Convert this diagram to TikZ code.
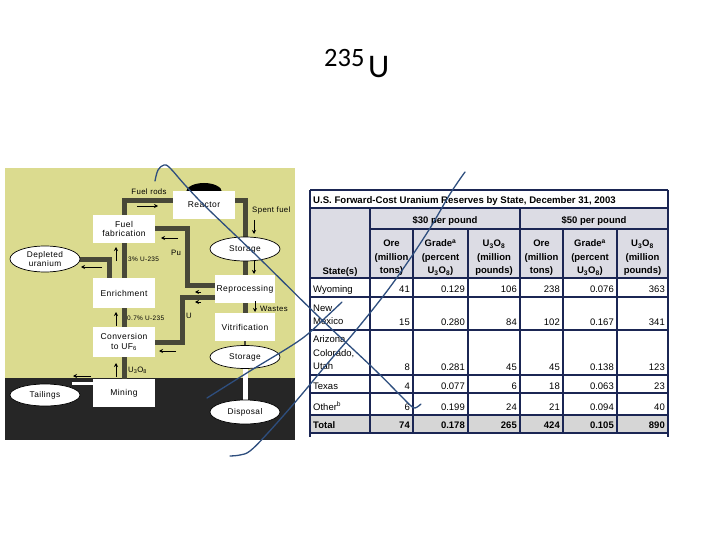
\documentclass[tikz,border=0pt]{standalone}
\usepackage{fontspec}
\setmainfont{Liberation Sans}
\newfontfamily\titlefont{Carlito}
\newfontfamily\diagfont[LetterSpace=5]{Liberation Sans}
\usetikzlibrary{shapes.geometric,arrows.meta}
\definecolor{yel}{RGB}{219,219,143}
\definecolor{darkbg}{RGB}{38,38,38}
\definecolor{flow}{RGB}{72,72,56}
\definecolor{tline}{RGB}{27,38,84}
\definecolor{thead}{RGB}{220,220,228}
\definecolor{ttot}{RGB}{214,214,214}
\definecolor{ink}{RGB}{46,78,126}
\pgfdeclarelayer{bg}
\pgfsetlayers{bg,main}
\begin{document}
\begin{tikzpicture}[x=1pt,y=-1pt,
  box/.style={rectangle,fill=white,inner sep=0pt,align=center,font=\diagfont\fontsize{8.5}{9.5}\selectfont},
  blob/.style={ellipse,draw=black,line width=0.7pt,fill=white,inner sep=0pt,align=center,font=\diagfont\fontsize{8.3}{9.3}\selectfont},
  flowline/.style={draw=flow,line width=5pt},
  whiteline/.style={draw=white,line width=5pt},
  tinyarrow/.style={draw=black,line width=0.7pt,-{Stealth[length=4pt,width=4pt]}},
  lbl/.style={font=\diagfont\fontsize{6.5}{7.5}\selectfont,inner sep=0pt},
  lblbig/.style={font=\diagfont\fontsize{7.8}{8.5}\selectfont,inner sep=0pt},
  hline/.style={draw=tline,line width=1.6pt},
  vline/.style={draw=tline,line width=1.1pt},
  hdr/.style={anchor=south,align=center,inner sep=0pt,font=\bfseries\fontsize{9.5}{13.5}\selectfont},
  rl/.style={anchor=south west,align=left,inner sep=0pt,font=\fontsize{9.5}{13.5}\selectfont},
  rlb/.style={anchor=base west,inner sep=0pt,font=\fontsize{9.5}{13.5}\selectfont},
  nm/.style={anchor=base east,inner sep=0pt,font=\fontsize{9.5}{11}\selectfont},
  nmb/.style={nm,font=\bfseries\fontsize{9.5}{11}\selectfont},
  inkline/.style={draw=ink,line width=1.3pt,line cap=round,line join=round}
]
\useasboundingbox (0,0) rectangle (720,540);

% title
\node[anchor=base west,inner sep=0pt,font=\titlefont\fontsize{26.5}{26.5}\selectfont] (t235) at (324,67) {235};
\node[anchor=base west,inner sep=0pt,font=\titlefont\fontsize{33}{33}\selectfont] (tU) at (368,78) {U};

% diagram background
\begin{pgfonlayer}{bg}
\fill[yel] (5,168) rectangle (295,378);
\fill[darkbg] (5,378) rectangle (295,440);
\end{pgfonlayer}

% dome and nodes
\node[ellipse,fill=black,minimum width=36pt,minimum height=18pt,inner sep=0pt] (dome) at (204,192) {};
\node[box,minimum width=62pt,minimum height=28pt] (reactor) at (204,205) {Reactor};
\node[box,minimum width=62pt,minimum height=28pt] (fab) at (124,229) {Fuel\\fabrication};
\node[box,minimum width=62pt,minimum height=30pt] (enrich) at (124,293) {Enrichment};
\node[box,minimum width=62pt,minimum height=30pt] (conv) at (124,342) {Conversion\\to UF\textsubscript{6}};
\node[box,minimum width=62pt,minimum height=28pt] (mining) at (124,393) {Mining};
\node[box,minimum width=60pt,minimum height=28pt] (repro) at (245,289) {Reprocessing};
\node[box,minimum width=60pt,minimum height=28pt] (vitri) at (245,327) {Vitrification};
\node[blob,minimum width=70pt,minimum height=24pt] (stor1) at (245,249) {Storage};
\node[blob,minimum width=70pt,minimum height=23pt] (stor2) at (245,357) {Storage};
\node[blob,minimum width=70pt,minimum height=24pt] (disp) at (245,412) {Disposal};
\node[blob,minimum width=70pt,minimum height=26pt] (depl) at (45,259) {Depleted\\uranium};
\node[blob,minimum width=70pt,minimum height=22pt] (tail) at (45,395) {Tailings};

% flow lines
\coordinate (pucorner) at (187,229);
\coordinate (ucorner) at (182,297);
\coordinate (tailend) at (72,383);
\begin{pgfonlayer}{bg}
\draw[flowline] (fab.north) |- ([yshift=4pt]reactor.west);
\draw[flowline] ([yshift=4pt]reactor.east) -| (stor1.north);
\draw[flowline] (stor1.south) -- (repro.north);
\draw[flowline] (fab.east) -- (pucorner) |- ([yshift=4pt]repro.west);
\draw[flowline] ([yshift=-8pt]repro.west) -- (ucorner) |- (conv.east);
\draw[flowline] (repro.south) -- (vitri.north);
\draw[flowline,line width=2pt] (vitri.south) -- (stor2.north);
\draw[whiteline] (stor2.south) -- (disp.north);
\draw[flowline] (enrich.north) -- (fab.south);
\draw[flowline] ([xshift=-15pt]enrich.north) |- (depl.east);
\draw[flowline] (conv.north) -- (enrich.south);
\draw[flowline] (mining.north) -- (conv.south);
\draw[whiteline,line width=3pt] ([yshift=10pt]mining.west) -- (tailend);
\end{pgfonlayer}

% small arrows
\coordinate (a1s) at (137,206); \coordinate (a1e) at (158,206);
\coordinate (a2s) at (178,238); \coordinate (a2e) at (161,238);
\coordinate (a3s) at (254,220); \coordinate (a3e) at (254,234);
\coordinate (a4s) at (254,261); \coordinate (a4e) at (254,274);
\coordinate (a5s) at (255,301); \coordinate (a5e) at (255,312);
\coordinate (a6s) at (116,261); \coordinate (a6e) at (116,247);
\coordinate (a7s) at (102,267); \coordinate (a7e) at (81,267);
\coordinate (a8s) at (116,326); \coordinate (a8e) at (116,312);
\coordinate (a9s) at (176,351); \coordinate (a9e) at (159,351);
\coordinate (a10s) at (116,377); \coordinate (a10e) at (116,363);
\coordinate (a11s) at (91,376); \coordinate (a11e) at (73,376);
\coordinate (a12s) at (201,292); \coordinate (a12e) at (195,292);
\coordinate (a13s) at (201,302); \coordinate (a13e) at (195,302);
\foreach \k in {1,...,13} \draw[tinyarrow] (a\k s) -- (a\k e);

% labels
\node[lblbig] (lfuel) at (149,192) {Fuel rods};
\node[lblbig,anchor=west] (lspent) at (252,210) {Spent fuel};
\node[lblbig] (lpu) at (176,253) {Pu};
\node[lblbig] (lu) at (189,316) {U};
\node[lblbig,anchor=west] (lwaste) at (260,309) {Wastes};
\node[lbl,anchor=west] (l3) at (128,259) {3\% U-235};
\node[lbl,anchor=west] (l07) at (127,318) {0.7\% U-235};
\node[lblbig,anchor=west] (lu3) at (128,370) {U\textsubscript{3}O\textsubscript{8}};

% table
\fill[white] (310,190) rectangle (668,437);
\fill[thead] (310,208) rectangle (668,278);
\fill[ttot] (310,415) rectangle (668,433);
\foreach \yy in {190,208,278,297,330,375,393,415,433} \draw[hline] (310,\yy) -- (668,\yy);
\draw[hline] (370,229) -- (668,229);
\draw[vline] (310,190) -- (310,437);
\draw[vline] (668,190) -- (668,437);
\draw[vline] (370,208) -- (370,433);
\draw[vline] (520,208) -- (520,433);
\foreach \xx in {413,468,563,617} \draw[vline] (\xx,229) -- (\xx,433);

\node[anchor=base west,inner sep=0pt,font=\bfseries\fontsize{9.6}{11}\selectfont] (ttl) at (313,204) {U.S. Forward-Cost Uranium Reserves by State, December 31, 2003};
\node[anchor=base,inner sep=0pt,font=\bfseries\fontsize{9.5}{11}\selectfont] (g30) at (445,224) {\$30 per pound};
\node[anchor=base,inner sep=0pt,font=\bfseries\fontsize{9.5}{11}\selectfont] (g50) at (594,224) {\$50 per pound};
\node[anchor=base,inner sep=0pt,font=\bfseries\fontsize{9.5}{11}\selectfont] (hs) at (340,274) {State(s)};
\node[hdr] (h1) at (391.5,276) {Ore\\(million\\tons)};
\node[hdr] (h2) at (440.5,276) {Grade\textsuperscript{a}\\(percent\\U\textsubscript{3}O\textsubscript{8})};
\node[hdr] (h3) at (494,276) {U\textsubscript{3}O\textsubscript{8}\\(million\\pounds)};
\node[hdr] (h4) at (541.5,276) {Ore\\(million\\tons)};
\node[hdr] (h5) at (590,276) {Grade\textsuperscript{a}\\(percent\\U\textsubscript{3}O\textsubscript{8})};
\node[hdr] (h6) at (642.5,276) {U\textsubscript{3}O\textsubscript{8}\\(million\\pounds)};

\node[rlb] (r1) at (313,292) {Wyoming};
\node[rl] (r2) at (313,325) {New\\Mexico};
\node[rl] (r3) at (313,370) {Arizona\\Colorado,\\Utah};
\node[rlb] (r4) at (313,389) {Texas};
\node[rlb] (r5) at (313,410) {Other\textsuperscript{b}};
\node[rlb,font=\bfseries\fontsize{9.5}{11}\selectfont] (r6) at (313,428) {Total};

\node[nm] (c11) at (410,292) {41};   \node[nm] (c12) at (465,292) {0.129}; \node[nm] (c13) at (517,292) {106};
\node[nm] (c14) at (560,292) {238};  \node[nm] (c15) at (614,292) {0.076}; \node[nm] (c16) at (665,292) {363};
\node[nm] (c21) at (410,325) {15};   \node[nm] (c22) at (465,325) {0.280}; \node[nm] (c23) at (517,325) {84};
\node[nm] (c24) at (560,325) {102};  \node[nm] (c25) at (614,325) {0.167}; \node[nm] (c26) at (665,325) {341};
\node[nm] (c31) at (410,370) {8};    \node[nm] (c32) at (465,370) {0.281}; \node[nm] (c33) at (517,370) {45};
\node[nm] (c34) at (560,370) {45};   \node[nm] (c35) at (614,370) {0.138}; \node[nm] (c36) at (665,370) {123};
\node[nm] (c41) at (410,389) {4};    \node[nm] (c42) at (465,389) {0.077}; \node[nm] (c43) at (517,389) {6};
\node[nm] (c44) at (560,389) {18};   \node[nm] (c45) at (614,389) {0.063}; \node[nm] (c46) at (665,389) {23};
\node[nm] (c51) at (410,410) {6};    \node[nm] (c52) at (465,410) {0.199}; \node[nm] (c53) at (517,410) {24};
\node[nm] (c54) at (560,410) {21};   \node[nm] (c55) at (614,410) {0.094}; \node[nm] (c56) at (665,410) {40};
\node[nmb] (c61) at (410,428) {74};  \node[nmb] (c62) at (465,428) {0.178}; \node[nmb] (c63) at (517,428) {265};
\node[nmb] (c64) at (560,428) {424}; \node[nmb] (c65) at (614,428) {0.105}; \node[nmb] (c66) at (665,428) {890};

% ink strokes
\draw[inkline] plot[smooth,tension=0.6] coordinates {(155,181) (158,170) (164,165) (170,168) (185,185) (207,208) (257,256) (320,318) (373,368) (400,395) (410,405) (415,408) (421,404)};
\draw[inkline] plot[smooth,tension=0.6] coordinates {(230,456) (240,455) (250,451) (267,434) (297,400) (327,364) (357,329) (393,283) (427,233) (450,194) (465,172)};
\draw[inkline] plot[smooth,tension=0.6] coordinates {(207,398) (250,371) (300,340) (325,318) (342,302)};
\end{tikzpicture}
\end{document}
